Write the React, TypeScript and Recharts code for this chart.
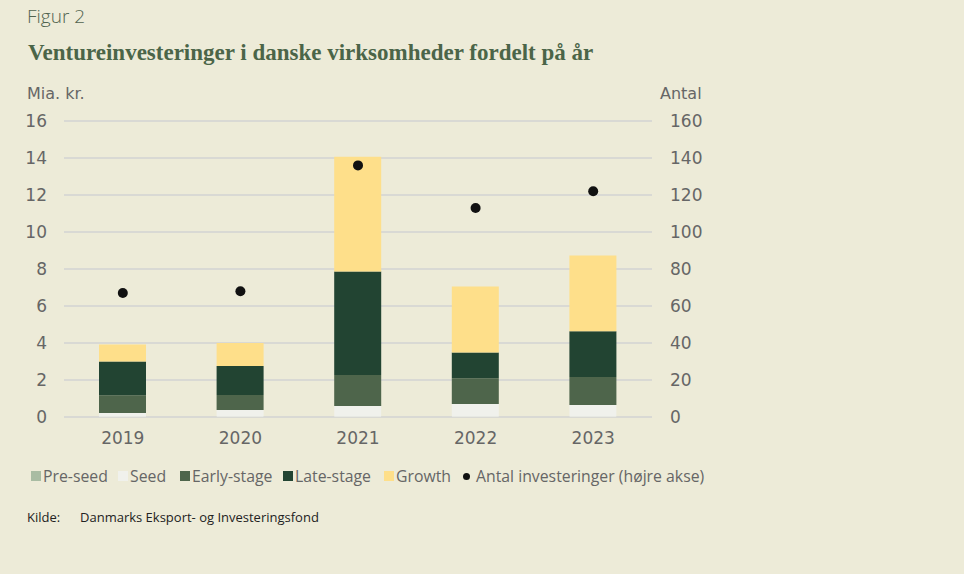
import React from "react";
import {
  ComposedChart,
  Bar,
  Line,
  XAxis,
  YAxis,
  CartesianGrid,
} from "recharts";

const years = ["2019", "2020", "2021", "2022", "2023"];
const preSeed = [0.02, 0.02, 0.02, 0.02, 0.02];
const seed = [0.2, 0.36, 0.58, 0.68, 0.63];
const earlyStage = [0.95, 0.81, 1.67, 1.4, 1.51];
const lateStage = [1.83, 1.57, 5.59, 1.39, 2.47];
const growth = [0.92, 1.24, 6.21, 3.56, 4.1];
const antal = [67, 68, 136, 113, 122];

const leftTicks = [0, 2, 4, 6, 8, 10, 12, 14, 16];
const rightTicks = [0, 20, 40, 60, 80, 100, 120, 140, 160];

const COLORS = {
  preSeed: "#a9bca3",
  seed: "#f0f1ec",
  early: "#4e654b",
  late: "#224432",
  growth: "#fedf8a",
  dot: "#111111",
};

const data = years.map((year, i) => ({
  year,
  preSeed: preSeed[i],
  seed: seed[i],
  earlyStage: earlyStage[i],
  lateStage: lateStage[i],
  growth: growth[i],
  antal: antal[i],
}));

const legendItems = [
  { label: "Pre-seed", color: COLORS.preSeed, x: 31, type: "square" },
  { label: "Seed", color: COLORS.seed, x: 118, type: "square" },
  { label: "Early-stage", color: COLORS.early, x: 180, type: "square" },
  { label: "Late-stage", color: COLORS.late, x: 283, type: "square" },
  { label: "Growth", color: COLORS.growth, x: 384, type: "square" },
  { label: "Antal investeringer (højre akse)", color: COLORS.dot, x: 463, type: "dot" },
];

const tickStyle = { fill: "#666666", fontSize: 17, fontFamily: "DejaVu Sans" };

export default function App() {
  return (
    <div
      style={{
        position: "absolute",
        left: 0,
        top: 0,
        width: 964,
        height: 574,
        background: "#edebd8",
        overflow: "hidden",
        fontFamily: "'Open Sans', sans-serif",
      }}
    >
      <div
        style={{
          position: "absolute",
          left: 27,
          top: 3,
          fontSize: 19,
          fontWeight: 300,
          color: "#51634f",
        }}
      >
        Figur 2
      </div>
      <div
        style={{
          position: "absolute",
          left: 28,
          top: 40,
          fontSize: 23,
          fontWeight: 700,
          fontFamily: "'Liberation Serif', serif",
          color: "#4b6548",
        }}
      >
        Ventureinvesteringer i danske virksomheder fordelt på år
      </div>
      <div
        style={{
          position: "absolute",
          left: 27,
          top: 84,
          fontSize: 16,
          fontFamily: "'DejaVu Sans', sans-serif",
          color: "#666666",
        }}
      >
        Mia. kr.
      </div>
      <div
        style={{
          position: "absolute",
          left: 660,
          top: 84,
          fontSize: 16,
          fontFamily: "'DejaVu Sans', sans-serif",
          color: "#666666",
        }}
      >
        Antal
      </div>

      <div style={{ position: "absolute", left: 0, top: 0 }}>
        <ComposedChart
          width={964}
          height={457}
          data={data}
          barSize={47}
          margin={{ top: 121, right: 252, left: 0, bottom: 0 }}
        >
          <CartesianGrid
            vertical={false}
            stroke="#d9d9d4"
            strokeWidth={2}
            yAxisId="left"
          />
          <XAxis
            dataKey="year"
            axisLine={false}
            tickLine={false}
            tickSize={0}
            tickMargin={15}
            height={40}
            tick={tickStyle}
          />
          <YAxis
            yAxisId="left"
            orientation="left"
            width={64}
            domain={[0, 16]}
            ticks={leftTicks}
            axisLine={false}
            tickLine={false}
            tickSize={0}
            tickMargin={17}
            tick={tickStyle}
          />
          <YAxis
            yAxisId="right"
            orientation="right"
            width={60}
            domain={[0, 160]}
            ticks={rightTicks}
            axisLine={false}
            tickLine={false}
            tickSize={0}
            tickMargin={18}
            tick={{ ...tickStyle, textAnchor: "start" }}
          />
          <Bar yAxisId="left" dataKey="preSeed" stackId="a" fill={COLORS.preSeed} isAnimationActive={false} />
          <Bar yAxisId="left" dataKey="seed" stackId="a" fill={COLORS.seed} isAnimationActive={false} />
          <Bar yAxisId="left" dataKey="earlyStage" stackId="a" fill={COLORS.early} isAnimationActive={false} />
          <Bar yAxisId="left" dataKey="lateStage" stackId="a" fill={COLORS.late} isAnimationActive={false} />
          <Bar yAxisId="left" dataKey="growth" stackId="a" fill={COLORS.growth} isAnimationActive={false} />
          <Line
            yAxisId="right"
            dataKey="antal"
            stroke="none"
            strokeWidth={0}
            dot={{ r: 5, fill: COLORS.dot, stroke: "none" }}
            activeDot={false}
            isAnimationActive={false}
          />
        </ComposedChart>
      </div>

      {legendItems.map((item) => (
        <div
          key={item.label}
          style={{
            position: "absolute",
            left: item.x,
            top: 465,
            height: 22,
            display: "flex",
            alignItems: "center",
            fontSize: 15.8,
            color: "#666666",
            whiteSpace: "nowrap",
          }}
        >
          <span
            style={{
              display: "inline-block",
              width: item.type === "dot" ? 7 : 10,
              height: item.type === "dot" ? 7 : 10,
              borderRadius: item.type === "dot" ? "50%" : 0,
              background: item.color,
              marginRight: item.type === "dot" ? 6 : 2,
            }}
          />
          {item.label}
        </div>
      ))}

      <div
        style={{
          position: "absolute",
          left: 27,
          top: 508,
          fontSize: 13,
          color: "#222222",
          whiteSpace: "nowrap",
        }}
      >
        Kilde:
        <span style={{ position: "absolute", left: 53 }}>
          Danmarks Eksport- og Investeringsfond
        </span>
      </div>
    </div>
  );
}
